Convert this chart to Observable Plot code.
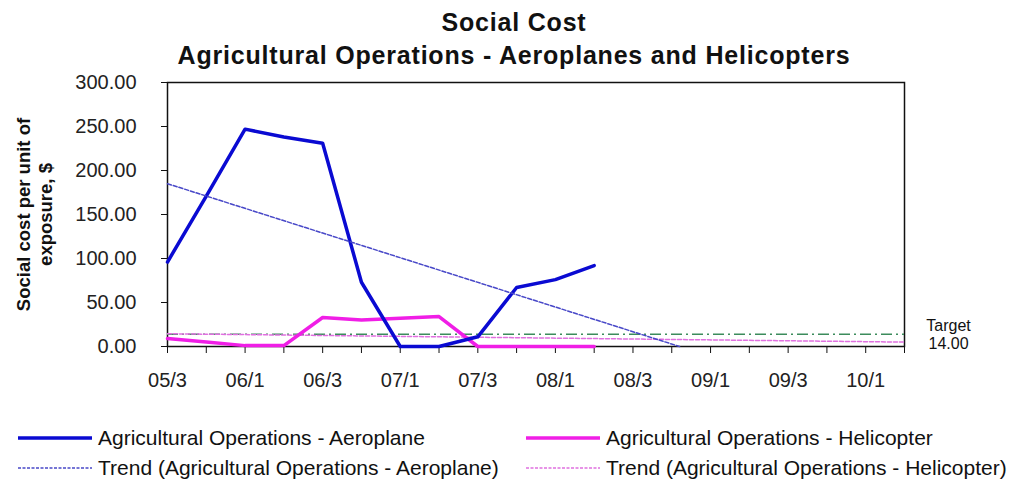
<!DOCTYPE html>
<html>
<head>
<meta charset="utf-8">
<script src="https://cdn.jsdelivr.net/npm/d3@7"></script>
<script src="https://cdn.jsdelivr.net/npm/@observablehq/plot@0.6"></script>
<style>
  html, body { margin: 0; padding: 0; background: #fff; }
  #wrap { position: relative; width: 1012px; height: 479px; font-family: "Liberation Sans", Arial, sans-serif; color: #111; overflow: hidden; }
  #plot { position: absolute; left: 0; top: 0; }
  .title { position: absolute; width: 1012px; text-align: center; font-weight: bold; font-size: 25px; letter-spacing: 0.8px; }
  .leg { position: absolute; font-size: 21px; white-space: nowrap; display: flex; align-items: center; }
  .leg svg { margin-right: 6px; }
</style>
</head>
<body>
<div id="wrap">
  <div id="plot"></div>
  <div class="title" style="top:8px; left:8px;">Social Cost</div>
  <div class="title" style="top:41px; left:8px;">Agricultural Operations - Aeroplanes and Helicopters</div>
  <div id="legend"></div>
</div>
<script>
// ---- data ----
const quarters = ["05/3","05/4","06/1","06/2","06/3","06/4","07/1","07/2","07/3","07/4",
                  "08/1","08/2","08/3","08/4","09/1","09/2","09/3","09/4","10/1","10/2"];
const aeroplane  = [96, 171, 247, 238, 231, 73, 0, 0, 11, 67, 76, 92];
const helicopter = [9, 5, 1, 1, 33, 30, 32, 34, 0, 0, 0, 0];
// trend lines (quarter index, value)
const aeroTrendQ = [0, 13.2];
const aeroTrendV = [185, 0];
const heliTrendQ = [0, 19];
const heliTrendV = [14.5, 5];
const target = 14;
const yTicks = [0, 50, 100, 150, 200, 250, 300];
const seriesNames = ["Agricultural Operations - Aeroplane", "Agricultural Operations - Helicopter",
                     "Trend  (Agricultural Operations - Aeroplane)", "Trend  (Agricultural Operations - Helicopter)"];

const blue = "#0a0ad2", magenta = "#f01ee6", trendBlue = "#4848c8", trendMag = "#e070e0", green = "#3c8c5c";

const chart = Plot.plot({
  width: 1012,
  height: 400,
  marginTop: 82,
  marginBottom: 54,
  marginLeft: 167,
  marginRight: 108,
  style: { fontFamily: "Liberation Sans, Arial, sans-serif", fontSize: "20px", color: "#222", background: "transparent" },
  x: { type: "linear", domain: [0, quarters.length - 1] },
  y: { domain: [0, 300] },
  marks: [
    Plot.frame({ stroke: "#111", strokeWidth: 1.5 }),
    Plot.axisY({ ticks: yTicks, tickFormat: d => d.toFixed(2), tickSize: 6, tickPadding: 25, label: null, stroke: "#111" }),
    Plot.axisX({ ticks: d3.range(quarters.length), tickFormat: i => (i % 2 === 0 ? quarters[i] : ""), tickSize: 7, tickPadding: 19, label: null, stroke: "#111" }),
    Plot.ruleY([target], { stroke: green, strokeWidth: 1.5, strokeDasharray: "11,4,2,4" }),
    Plot.line(heliTrendV, { x: heliTrendQ, y: heliTrendV, stroke: trendMag, strokeWidth: 1.5, strokeDasharray: "4,2" }),
    Plot.line(helicopter, { x: (d, i) => i, y: d => d, stroke: magenta, strokeWidth: 3.5 }),
    Plot.line(aeroplane, { x: (d, i) => i, y: d => d, stroke: blue, strokeWidth: 3.5 }),
    Plot.line(aeroTrendV, { x: aeroTrendQ, y: aeroTrendV, stroke: trendBlue, strokeWidth: 1.5, strokeDasharray: "4,2" }),
    Plot.text([target], { y: d => d, frameAnchor: "right", dx: 44, text: d => "Target\n" + d.toFixed(2), fontSize: 16, lineHeight: 1.15, textAnchor: "middle", fill: "#111" }),
    Plot.text(["Social cost per unit of\nexposure, $"], { frameAnchor: "left", dx: -134, rotate: -90, text: d => d, textAnchor: "middle", fontSize: 18.5, fontWeight: "bold", lineHeight: 1.2, fill: "#111" })
  ]
});
document.getElementById("plot").appendChild(chart);

// legend
const legendItems = [
  { name: seriesNames[0], color: blue, w: 3.5, dash: null, left: 18, top: 426 },
  { name: seriesNames[1], color: magenta, w: 3.5, dash: null, left: 526, top: 426 },
  { name: seriesNames[2], color: trendBlue, w: 1.5, dash: "3,1.5", left: 18, top: 456 },
  { name: seriesNames[3], color: trendMag, w: 1.5, dash: "3,1.5", left: 526, top: 456 }
];
const legend = document.getElementById("legend");
for (const it of legendItems) {
  const div = document.createElement("div");
  div.className = "leg";
  div.style.left = it.left + "px";
  div.style.top = it.top + "px";
  div.innerHTML = `<svg width="74" height="10"><line x1="0" x2="74" y1="5" y2="5" stroke="${it.color}" stroke-width="${it.w}" ${it.dash ? `stroke-dasharray="${it.dash}"` : ""}/></svg><span>${it.name}</span>`;
  legend.appendChild(div);
}
</script>
</body>
</html>
